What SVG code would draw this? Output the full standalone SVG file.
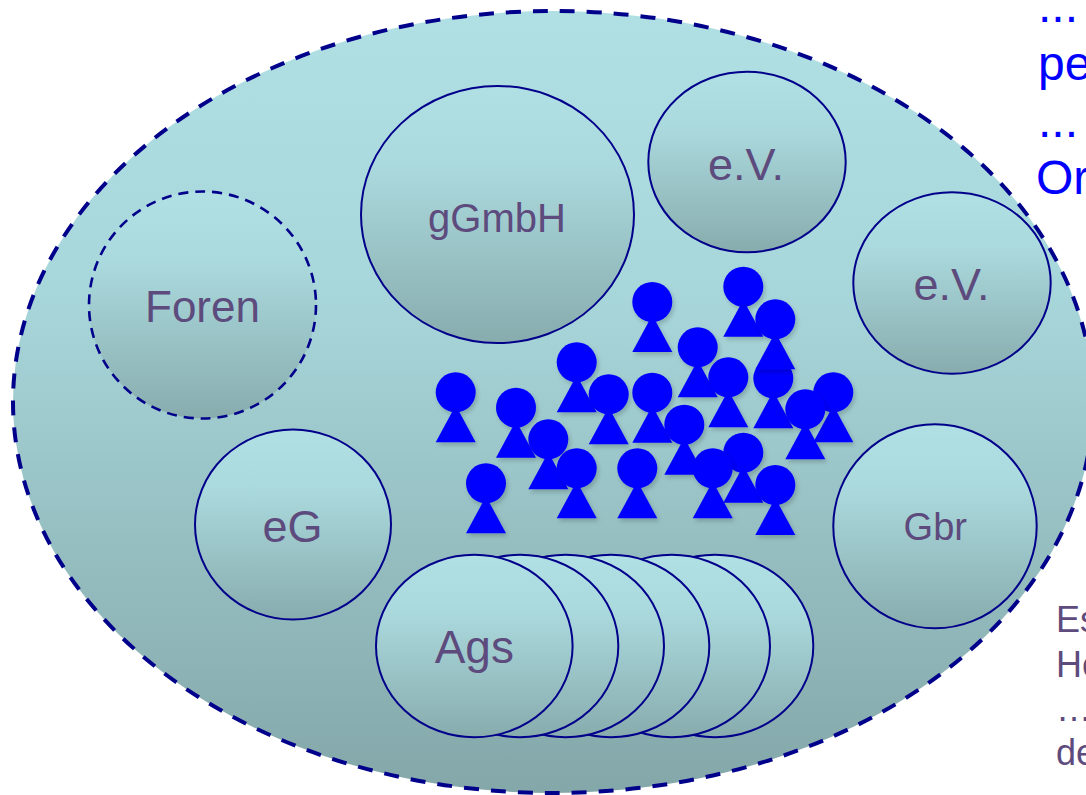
<svg xmlns="http://www.w3.org/2000/svg" xmlns:xlink="http://www.w3.org/1999/xlink" width="1086" height="795" viewBox="0 0 1086 795">
<defs>
<linearGradient id="gBig" x1="0" y1="0" x2="0" y2="1">
<stop offset="0" stop-color="#b1e0e4"/>
<stop offset="0.35" stop-color="#a8d7db"/>
<stop offset="1" stop-color="#84a7a9"/>
</linearGradient>
<linearGradient id="gCirc" x1="0" y1="0" x2="0" y2="1">
<stop offset="0" stop-color="#b1e0e4"/>
<stop offset="0.3" stop-color="#abdade"/>
<stop offset="1" stop-color="#88acae"/>
</linearGradient>
<filter id="sh" x="-50%" y="-50%" width="200%" height="200%">
<feDropShadow dx="2" dy="3" stdDeviation="2" flood-color="#000" flood-opacity="0.18"/>
</filter>
<g id="person">
<polygon points="0,13 -20,50 20,50"/>
<circle cx="0" cy="0" r="20"/>
</g>
</defs>
<style>
.org{fill:url(#gCirc);stroke:#00008b;stroke-width:2}
.lbl{font-family:"Liberation Sans",Arial,sans-serif;fill:#5d4b7d;text-anchor:middle}
.side{font-family:"Liberation Sans",Arial,sans-serif;fill:#5d4b7d;font-size:36px}
.blue{font-family:"Liberation Sans",Arial,sans-serif;fill:#0000ff;font-size:48px}
.p{fill:#0000ff;filter:url(#sh)}
</style>
<rect width="1086" height="795" fill="#ffffff"/>

<g id="outer">
<ellipse cx="553" cy="402" rx="540" ry="391" fill="url(#gBig)" stroke="#00008b" stroke-width="4" stroke-dasharray="15 12"/>
</g>

<g id="connectors"></g>

<g id="foren">
<circle cx="202.5" cy="305" r="113.5" fill="url(#gCirc)" stroke="#00008b" stroke-width="2.6" stroke-dasharray="10 7"/>
<text class="lbl" x="202.5" y="322" font-size="44">Foren</text>
</g>

<g id="ggmbh">
<ellipse class="org" cx="497.5" cy="214.5" rx="136.5" ry="128.5"/>
<text class="lbl" x="497" y="231.5" font-size="40">gGmbH</text>
</g>

<g id="ev-top">
<ellipse class="org" cx="747" cy="162" rx="98.7" ry="90.3"/>
<text class="lbl" x="746" y="179.5" font-size="45">e.V.</text>
</g>

<g id="ev-right">
<ellipse class="org" cx="952" cy="283" rx="98.7" ry="90.8"/>
<text class="lbl" x="951.5" y="300" font-size="45">e.V.</text>
</g>

<g id="eg">
<ellipse class="org" cx="293" cy="524.5" rx="98" ry="95"/>
<text class="lbl" x="292.5" y="541.5" font-size="45">eG</text>
</g>

<g id="gbr">
<ellipse class="org" cx="935" cy="526.3" rx="101.7" ry="102"/>
<text class="lbl" x="935.3" y="540" font-size="38">Gbr</text>
</g>

<g id="ags">
<ellipse class="org" cx="715" cy="646" rx="98.3" ry="91.2"/>
<ellipse class="org" cx="671.7" cy="646" rx="98.3" ry="91.2"/>
<ellipse class="org" cx="611" cy="646" rx="98.3" ry="91.2"/>
<ellipse class="org" cx="565.7" cy="646" rx="98.3" ry="91.2"/>
<ellipse class="org" cx="520" cy="646" rx="98.3" ry="91.2"/>
<ellipse class="org" cx="474.3" cy="646" rx="98.3" ry="91.2"/>
<text class="lbl" x="474.3" y="663.3" font-size="46">Ags</text>
</g>

<g id="people">
<g id="person-13"><use class="p" href="#person" x="743.3" y="286.7"/></g>
<g id="person-9"><use class="p" href="#person" x="652.3" y="302"/></g>
<g id="person-16"><use class="p" href="#person" x="773.3" y="378.3"/></g>
<g id="person-14"><use class="p" href="#person" x="775.3" y="319.3"/></g>
<g id="person-11"><use class="p" href="#person" x="697.7" y="347.3"/></g>
<g id="person-3"><use class="p" href="#person" x="576.7" y="362.3"/></g>
<g id="person-15"><use class="p" href="#person" x="728.3" y="377.3"/></g>
<g id="person-1"><use class="p" href="#person" x="455.7" y="392.3"/></g>
<g id="person-17"><use class="p" href="#person" x="833.3" y="392.3"/></g>
<g id="person-8"><use class="p" href="#person" x="652.3" y="392.7"/></g>
<g id="person-7"><use class="p" href="#person" x="608.7" y="394.3"/></g>
<g id="person-2"><use class="p" href="#person" x="516" y="407.7"/></g>
<g id="person-18"><use class="p" href="#person" x="805.3" y="409.3"/></g>
<g id="person-12"><use class="p" href="#person" x="684.3" y="424.7"/></g>
<g id="person-4"><use class="p" href="#person" x="548.3" y="439.3"/></g>
<g id="person-19"><use class="p" href="#person" x="743.3" y="452.7"/></g>
<g id="person-6"><use class="p" href="#person" x="576.7" y="468.3"/></g>
<g id="person-10"><use class="p" href="#person" x="637.3" y="468.3"/></g>
<g id="person-20"><use class="p" href="#person" x="712.7" y="468.3"/></g>
<g id="person-5"><use class="p" href="#person" x="486" y="483.3"/></g>
<g id="person-21"><use class="p" href="#person" x="775.3" y="485"/></g>
</g>

<g id="text-top-right">
<text class="blue" x="1038" y="22">...</text>
<text class="blue" x="1038" y="80">pe</text>
<text class="blue" x="1038" y="137">...</text>
<text class="blue" x="1036" y="194">Or</text>
</g>

<g id="text-bottom-right">
<text class="side" x="1056" y="632">Es</text>
<text class="side" x="1056" y="677">He</text>
<text class="side" x="1056" y="721">…</text>
<text class="side" x="1056" y="765">de</text>
</g>
</svg>
